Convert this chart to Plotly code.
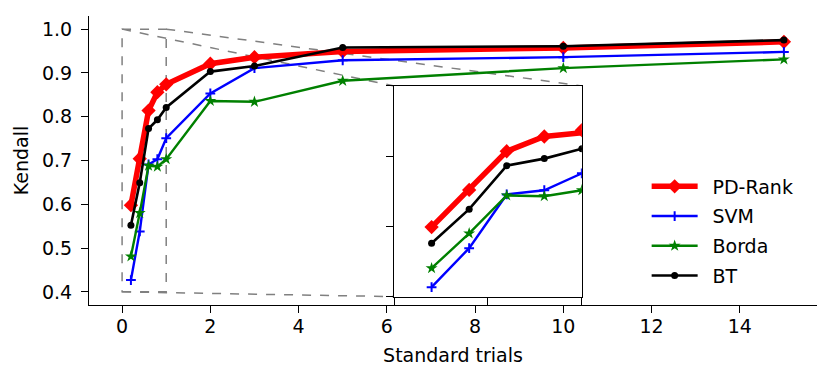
import plotly.graph_objects as go

# data
trials = [0.2, 0.4, 0.6, 0.8, 1, 2, 3, 5, 10, 15]
pd_rank = [0.598, 0.704, 0.814, 0.856, 0.874, 0.921, 0.936, 0.949, 0.957, 0.971]
svm = [0.427, 0.538, 0.691, 0.703, 0.751, 0.853, 0.911, 0.929, 0.936, 0.948]
borda = [0.481, 0.580, 0.688, 0.686, 0.703, 0.836, 0.834, 0.882, 0.911, 0.931]
bt = [0.552, 0.649, 0.773, 0.793, 0.821, 0.903, 0.916, 0.958, 0.961, 0.975]

x_ticks = [0, 2, 4, 6, 8, 10, 12, 14]
y_ticks = [0.4, 0.5, 0.6, 0.7, 0.8, 0.9, 1.0]

# main / inset geometry
X_RANGE = [-0.75, 15.75]
Y_RANGE = [0.37, 1.03]
ZOOM_X = [0, 1]
ZOOM_Y = [0.4, 1.0]
INSET_X = [0.419, 0.677]
INSET_Y = [0.029, 0.758]

FONT = dict(family="DejaVu Sans", size=19, color="black")

series = [
    ("PD-Rank", pd_rank, "#ff0000", 5.5, dict(symbol="diamond", size=11)),
    ("SVM", svm, "#0000ff", 2.4, dict(symbol="cross-thin", size=7, line=dict(width=2, color="#0000ff"))),
    ("Borda", borda, "#008000", 2.4, dict(symbol="star", size=9)),
    ("BT", bt, "#000000", 2.6, dict(symbol="circle", size=7)),
]


def to_paper(v, rng):
    return (v - rng[0]) / (rng[1] - rng[0])


fig = go.Figure()
for name, ys, color, width, marker in series:
    fig.add_trace(go.Scatter(
        x=trials, y=ys, name="\u00a0\u2009" + name, mode="lines+markers",
        line=dict(color=color, width=width),
        marker=dict(color=color, **marker),
        legendgroup=name,
    ))
for name, ys, color, width, marker in series:
    fig.add_trace(go.Scatter(
        x=trials, y=ys, name=name, mode="lines+markers",
        line=dict(color=color, width=width),
        marker=dict(color=color, **marker),
        legendgroup=name, showlegend=False,
        xaxis="x2", yaxis="y2",
    ))

# zoom rectangle in main axes
fig.add_shape(type="rect", xref="x", yref="y",
              x0=ZOOM_X[0], x1=ZOOM_X[1], y0=ZOOM_Y[0], y1=ZOOM_Y[1],
              line=dict(color="#808080", width=1.5, dash="dash"), layer="below")

# connectors from rectangle corners to inset corners
rx0, rx1 = to_paper(ZOOM_X[0], X_RANGE), to_paper(ZOOM_X[1], X_RANGE)
ry0, ry1 = to_paper(ZOOM_Y[0], Y_RANGE), to_paper(ZOOM_Y[1], Y_RANGE)
for (ax, ay), (bx, by) in [((rx0, ry1), (INSET_X[0], INSET_Y[1])),
                           ((rx1, ry1), (INSET_X[1], INSET_Y[1])),
                           ((rx0, ry0), (INSET_X[0], INSET_Y[0]))]:
    fig.add_shape(type="line", xref="paper", yref="paper",
                  x0=ax, y0=ay, x1=bx, y1=by,
                  line=dict(color="#808080", width=1.5, dash="dash"), layer="below")

axis_common = dict(showgrid=False, zeroline=False, showline=True, linecolor="black",
                   linewidth=1.2, ticks="outside", ticklen=7, tickwidth=1.2,
                   tickcolor="black", tickfont=FONT)

# page body adds 8px, so the figure is 8px smaller than the window
fig.update_layout(
    width=823, height=374,
    margin=dict(l=81, r=14, t=8, b=77),
    paper_bgcolor="white", plot_bgcolor="white",
    font=FONT,
    xaxis=dict(range=X_RANGE, tickvals=x_ticks, ticklabelstandoff=-3,
               title=dict(text="Standard trials", font=FONT, standoff=12), **axis_common),
    yaxis=dict(range=Y_RANGE, tickvals=y_ticks, tickformat=".1f", ticklabelstandoff=5,
               title=dict(text="Kendall", font=FONT, standoff=8), **axis_common),
    xaxis2=dict(domain=INSET_X, anchor="y2", range=ZOOM_X, tickvals=[0, 0.5, 1],
                showticklabels=False, mirror=True, **axis_common),
    yaxis2=dict(domain=INSET_Y, anchor="x2", range=ZOOM_Y, tickvals=[0.4, 0.6, 0.8, 1.0],
                showticklabels=False, mirror=True, **axis_common),
    legend=dict(x=0.766, y=0.256, xanchor="left", yanchor="middle",
                bgcolor="rgba(0,0,0,0)", font=FONT, itemwidth=46, tracegroupgap=2),
    showlegend=True,
)

fig.write_html("out.html")
